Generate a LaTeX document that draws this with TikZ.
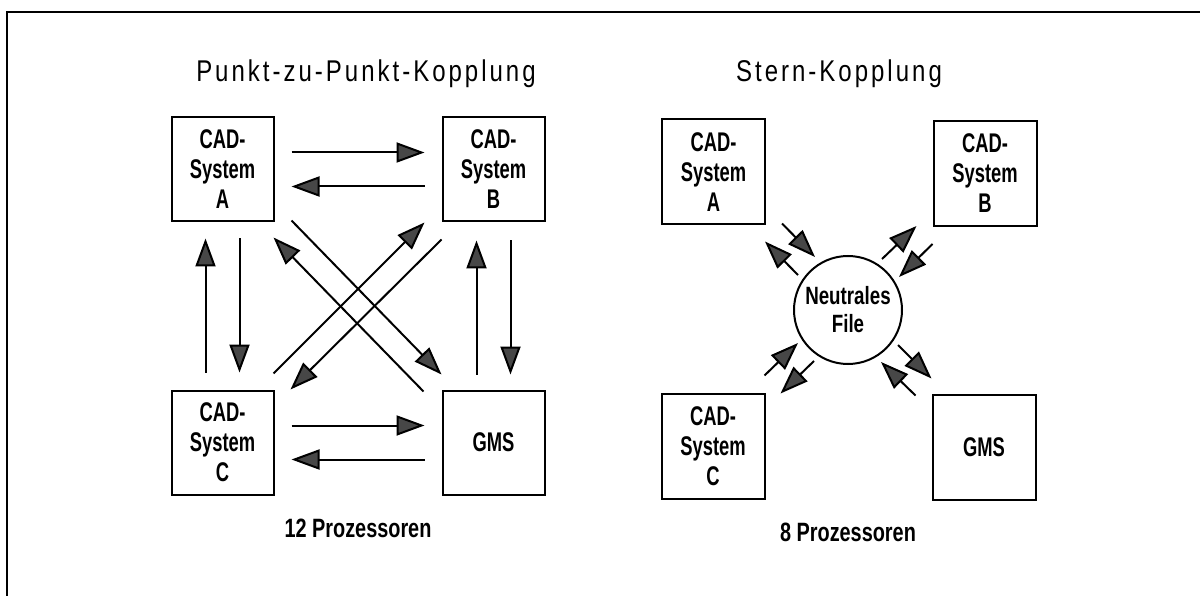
\documentclass[tikz,border=0pt]{standalone}
\usepackage{fontspec}
\setmainfont{Liberation Sans}
\newfontfamily\headfont[FakeStretch=0.8,LetterSpace=10]{Liberation Sans}
\newfontfamily\labelfont[FakeStretch=0.75]{Liberation Sans}
\newfontfamily\boxfont[FakeStretch=0.68]{Liberation Sans}
\usetikzlibrary{arrows.meta,calc}

\tikzset{
  sysbox/.style={draw, line width=2pt, minimum width=102pt, minimum height=104pt,
    inner sep=0pt, align=center, font=\boxfont\bfseries\fontsize{27}{30}\selectfont},
  hub/.style={circle, draw, line width=2pt, minimum size=108pt, inner sep=0pt,
    align=center, font=\labelfont\bfseries\fontsize{25}{28}\selectfont},
  flow/.style={line width=2pt, -{Triangle[length=28pt,width=20pt,fill=black!72]}},
  heading/.style={font=\headfont\fontsize{30}{34}\selectfont, anchor=base},
  count/.style={font=\labelfont\bfseries\fontsize{26.5}{30}\selectfont, anchor=base},
  frame/.style={line width=2pt},
}

\begin{document}
\begin{tikzpicture}[x=1pt,y=-1pt]
\useasboundingbox (0,0) rectangle (1200,596);
\fill[white] (0,0) rectangle (1200,596);

% page frame (continues past the right and bottom edges)
\draw[frame] (7,596) -- (7,12) -- (1200,12);

% ---------- point-to-point coupling ----------
\node[heading] (t1) at (366,82) {Punkt-zu-Punkt-Kopplung};

\node[sysbox] (A) at (222.5,169.5) {CAD-\\System\\A};
\node[sysbox] (B) at (493.5,169.5) {CAD-\\System\\B};
\node[sysbox] (C) at (222.5,442.5) {CAD-\\System\\C};
\node[sysbox] (G) at (493.5,442.5) {GMS};

% horizontal pairs
\draw[flow] ($(A.east)+(17,-17)$) -- ($(B.west)+(-17,-17)$);
\draw[flow] ($(B.west)+(-17,17)$) -- ($(A.east)+(17,17)$);
\draw[flow] ($(C.east)+(17,-17)$) -- ($(G.west)+(-17,-17)$);
\draw[flow] ($(G.west)+(-17,17)$) -- ($(C.east)+(17,17)$);

% vertical pairs
\draw[flow] ($(C.north)+(-17,-17)$) -- ($(A.south)+(-17,16)$);
\draw[flow] ($(A.south)+(17,16)$) -- ($(C.north)+(17,-17)$);
\draw[flow] ($(G.north)+(-17,-15)$) -- ($(B.south)+(-17,18)$);
\draw[flow] ($(B.south)+(17,18)$) -- ($(G.north)+(17,-15)$);

% diagonal pairs
\draw[flow] ($(A.south east)+(17,-2)$) -- ($(G.north west)+(0,-15)$);
\draw[flow] ($(G.north west)+(-18,2)$) -- ($(A.south east)+(-1,15)$);
\draw[flow] ($(C.north east)+(-1,-16)$) -- ($(B.south west)+(-17,0)$);
\draw[flow] ($(B.south west)+(0,17)$) -- ($(C.north east)+(16,0)$);

\node[count] (n1) at (358,537) {12 Prozessoren};

% ---------- star coupling ----------
\node[heading] (t2) at (839,82) {Stern-Kopplung};

\node[sysbox, minimum width=103pt, minimum height=105pt] (A2) at (713.5,172) {CAD-\\System\\A};
\node[sysbox, minimum width=103pt, minimum height=105pt] (B2) at (985,173.5) {CAD-\\System\\B};
\node[sysbox, minimum width=103pt, minimum height=105pt] (C2) at (713,446) {CAD-\\System\\C};
\node[sysbox, minimum width=103pt, minimum height=105pt] (G2) at (984,447) {GMS};

\node[hub] (N) at (848,310) {Neutrales\\File};

% A <-> file
\draw[flow] ($(A2.south east)+(16,-2)$) -- ($(N)+(-33,-53)$);
\draw[flow] ($(N)+(-50,-35)$) -- ($(A2.south east)+(-1,16)$);
% B <-> file
\draw[flow] ($(N)+(34,-51)$) -- ($(B2.south west)+(-16,-1)$);
\draw[flow] ($(B2.south west)+(0,17)$) -- ($(N)+(51,-33)$);
% C <-> file
\draw[flow] ($(C2.north east)+(-1,-17)$) -- ($(N)+(-50,33)$);
\draw[flow] ($(N)+(-34,51)$) -- ($(C2.north east)+(15,1)$);
% GMS <-> file
\draw[flow] ($(N)+(50,35)$) -- ($(G2.north west)+(0,-15)$);
\draw[flow] ($(G2.north west)+(-16,2)$) -- ($(N)+(33,52)$);

\node[count] (n2) at (848,541) {8 Prozessoren};
\end{tikzpicture}
\end{document}
